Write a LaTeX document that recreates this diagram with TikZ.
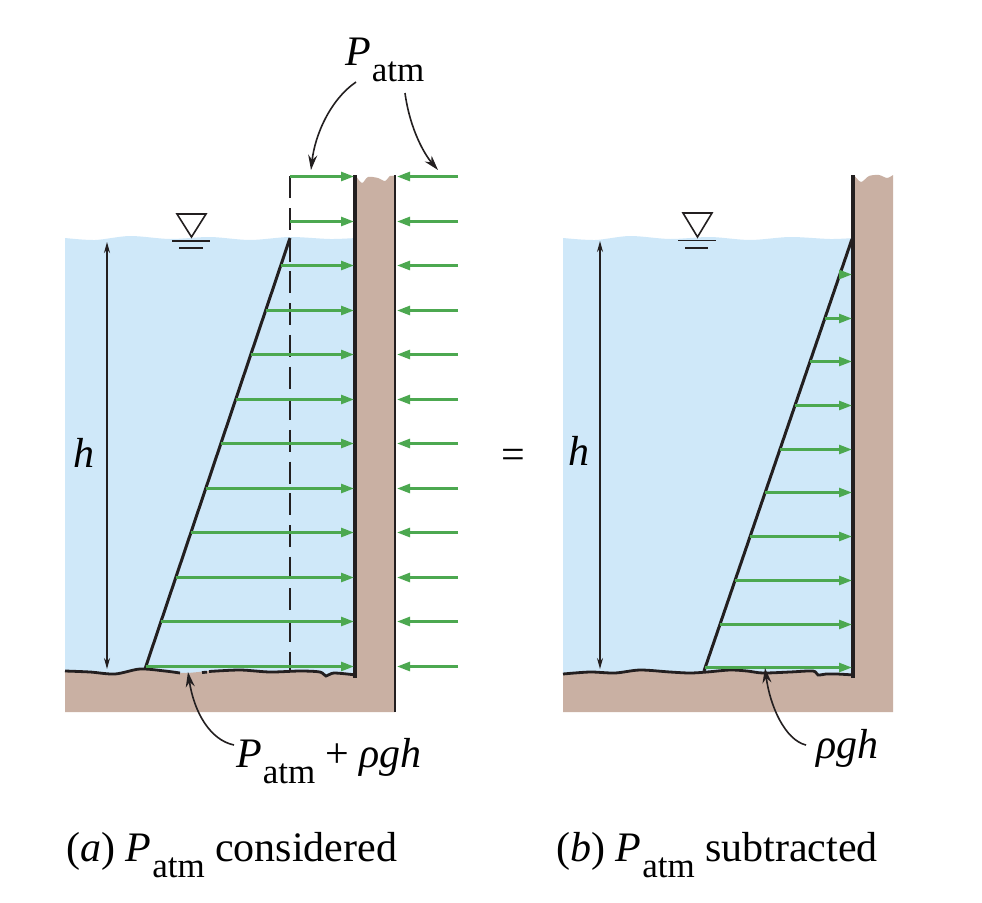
\documentclass[tikz,border=0pt]{standalone}
\usepackage{fontspec}
\setmainfont{Liberation Serif}
\usetikzlibrary{arrows.meta}
\definecolor{water}{RGB}{207,232,249}
\definecolor{ground}{RGB}{201,176,163}
\definecolor{grn}{RGB}{76,168,80}
\definecolor{ink}{RGB}{35,31,32}
\newcommand{\Pat}{\textit{P}\kern1pt\raisebox{-16pt}{\fontsize{35}{35}\selectfont atm}}
\begin{document}
\begin{tikzpicture}[x=1pt,y=-1pt,
 pa/.style={grn, line width=2.6pt, -{Triangle[length=13pt,width=9pt]}},
 wallline/.style={ink, line width=3.2pt},
 gline/.style={ink, line width=2.8pt},
 diag/.style={ink, line width=3pt},
 lab/.style={ink, line width=1.6pt, -{Stealth[length=15pt,width=9pt]}},
 dim/.style={ink, line width=1.4pt, {Stealth[length=11pt,width=6pt]}-{Stealth[length=11pt,width=6pt]}},
 txt/.style={inner sep=0pt, anchor=base west, font=\fontsize{42}{42}\selectfont},
 fs/.style={ink, line width=1.6pt},
]
\useasboundingbox (0,0) rectangle (982,902);
\fill[white] (0,0) rectangle (982,902);

% ================= LEFT FIGURE =================
\fill[water] plot[smooth] coordinates {(65,238) (95,240) (130,236) (170,239) (210,237) (250,240) (290,237) (330,239) (356,238)} -- (356,676) -- (65,676) -- cycle;
\fill[ground] plot[smooth] coordinates {(65,671) (90,672) (115,674) (140,669) (165,671) (185,673) (210,671) (240,670) (270,672) (300,671) (320,672) (326,676) (334,673) (356,675)} -- (356,176) -- plot[smooth] coordinates {(356,176) (362,183) (368,177) (378,178) (385,181) (390,176) (395,176)} -- (395,712) -- (65,712) -- cycle;
% ground line
\draw[gline] plot[smooth] coordinates {(65,671) (90,672) (115,674) (140,669) (165,671) (180,673)};
\draw[gline] (202,672.5) -- (207,672.2);
\draw[gline] plot[smooth] coordinates {(209,671.5) (240,670) (270,672) (300,671) (320,672) (326,676) (334,673) (356,675)};
% walls
\draw[wallline] (355,175) -- (355,678);
\draw[ink, line width=2.6pt] (395,175) -- (395,712);
% dashed line
\draw[ink, line width=2.4pt, dash pattern=on 22pt off 9.7pt] (290,176.3) -- (290,671);
% pressure line
\draw[diag] (290,238) -- (145,669);
% arrows
\foreach \k in {0,...,11}{
  \pgfmathsetmacro\yy{round(176+44.5*\k)+0.5}
  \pgfmathsetmacro\xx{290-max(\yy-238,0)*0.33721}
  \draw[pa] (\xx,\yy) -- (354,\yy);
  \draw[pa] (458,\yy) -- (397,\yy);
}
% free surface symbol
\draw[fs] (177,214) -- (206,214) -- (191.5,237) -- cycle;
\draw[fs] (172,241) -- (210,241);
\draw[fs] (179,248) -- (203,248);
% h dimension
\coordinate (hLa) at (107,242);
\coordinate (hLb) at (107,669);
\draw[dim] (hLa) -- (hLb);
\node[txt] (hL) at (73,467) {\textit{h}};

% labels
\node[txt] (patm) at (345,65) {\Pat};
\coordinate (pA) at (356,82);
\coordinate (pAt) at (311,170);
\coordinate (pB) at (405,93);
\coordinate (pBt) at (438,170);
\draw[lab] (pA) .. controls (330,100) and (315,135) .. (pAt);
\draw[lab] (pB) .. controls (410,130) and (425,155) .. (pBt);

\node[txt] (pgh1) at (236,767) {\Pat\kern10pt+\kern10pt\textit{ρgh}};
\coordinate (qA) at (234,745);
\coordinate (qAt) at (188,672);
\draw[lab] (qA) .. controls (210,740) and (194,712) .. (qAt);

% equals
\node[inner sep=0pt, font=\fontsize{42}{42}\selectfont] (eq) at (513,459) {=};

% ================= RIGHT FIGURE =================
\fill[water] plot[smooth] coordinates {(563,238) (595,240) (630,236) (670,239) (710,237) (750,240) (790,237) (830,239) (854,238)} -- (854,676) -- (563,676) -- cycle;
\fill[ground] plot[smooth] coordinates {(563,674) (590,672) (615,673) (640,670) (670,672) (690,673) (707,672) (730,670) (747,671) (763,673) (790,672) (813,671) (818,675) (826,674) (837,674) (854,675)} -- (854,176) -- plot[smooth] coordinates {(854,175) (861,182) (869,176) (879,175) (887,178) (893,175)} -- (893,712) -- (563,712) -- cycle;
\draw[gline] plot[smooth] coordinates {(563,674) (590,672) (615,673) (640,670) (670,672) (690,673) (707,672) (730,670) (747,671) (763,673) (790,672) (813,671) (818,675) (826,674) (837,674) (854,675)};
\draw[wallline] (853,175) -- (853,678);
\draw[diag] (852,239) -- (704,671);
\foreach \k in {0,...,9}{
  \pgfmathsetmacro\yy{round(274+43.7*\k)+0.5}
  \pgfmathsetmacro\xx{852-(\yy-239)*0.34259}
  \draw[pa] (\xx,\yy) -- (852,\yy);
}
\draw[fs] (683,213) -- (712,213) -- (697.5,237) -- cycle;
\draw[fs] (678,240.5) -- (716,240.5);
\draw[fs] (685,248) -- (708,248);
\coordinate (hRa) at (600,241);
\coordinate (hRb) at (600,669);
\draw[dim] (hRa) -- (hRb);
\node[txt] (hR) at (568,465) {\textit{h}};

\node[txt] (pgh2) at (816,758) {\textit{ρgh}};
\coordinate (rA) at (806,745);
\coordinate (rAt) at (765,668);
\draw[lab] (rA) .. controls (785,740) and (770,706) .. (rAt);

% captions
\node[txt] (capa) at (66,861) {(\textit{a}) \Pat\ considered};
\node[txt] (capb) at (556,861) {(\textit{b}) \Pat\ subtracted};
\end{tikzpicture}
\end{document}
